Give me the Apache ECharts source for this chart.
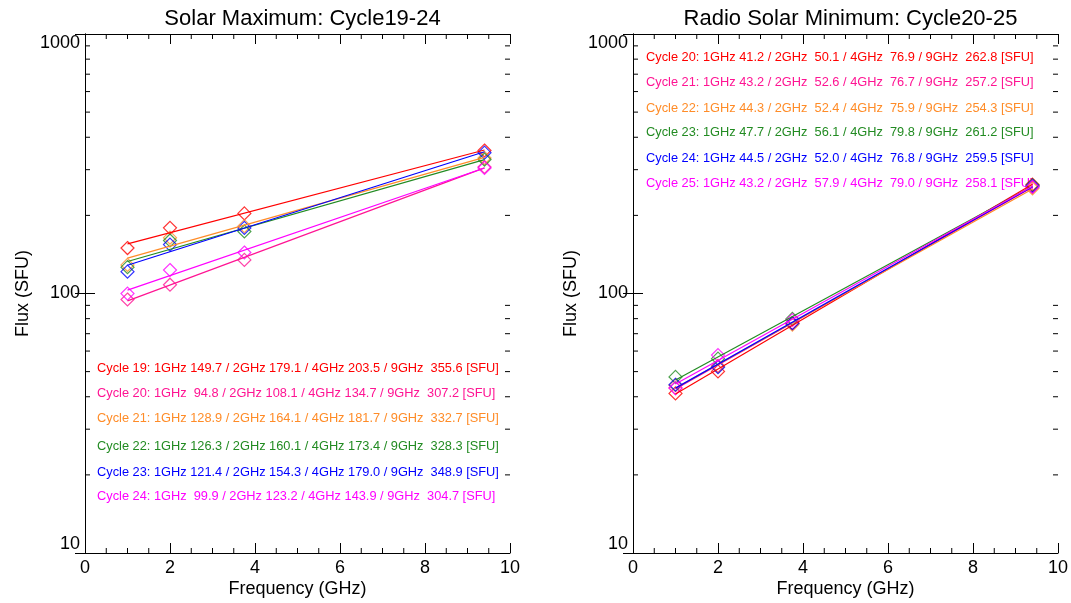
<!DOCTYPE html>
<html>
<head>
<meta charset="utf-8">
<script src="https://cdn.jsdelivr.net/npm/echarts@6/dist/echarts.min.js"></script>
<style>
html,body{margin:0;padding:0;background:#fff;}
#chart{width:1071px;height:603px;}
</style>
</head>
<body>
<div id="chart"></div>
<script>
// ---------- data ----------
const freqs = [1.0, 2.0, 3.75, 9.4];
const freqNames = ['1GHz', '2GHz', '4GHz', '9GHz'];
const xTicks = [0, 2, 4, 6, 8, 10];
const xMinorTicks = [0.5, 1, 1.5, 2.5, 3, 3.5, 4.5, 5, 5.5, 6.5, 7, 7.5, 8.5, 9, 9.5];
const yTicks = [10, 100, 1000];
const yMinorTicks = [20, 30, 40, 50, 60, 70, 80, 90, 200, 300, 400, 500, 600, 700, 800, 900];

const maxTitle = 'Solar Maximum: Cycle19-24';
const maxCycles = ['Cycle 19', 'Cycle 20', 'Cycle 21', 'Cycle 22', 'Cycle 23', 'Cycle 24'];
const maxC19 = [149.7, 179.1, 203.5, 355.6];
const maxC20 = [94.8, 108.1, 134.7, 307.2];
const maxC21 = [128.9, 164.1, 181.7, 332.7];
const maxC22 = [126.3, 160.1, 173.4, 328.3];
const maxC23 = [121.4, 154.3, 179.0, 348.9];
const maxC24 = [99.9, 123.2, 143.9, 304.7];

const minTitle = 'Radio Solar Minimum: Cycle20-25';
const minCycles = ['Cycle 20', 'Cycle 21', 'Cycle 22', 'Cycle 23', 'Cycle 24', 'Cycle 25'];
const minC20 = [41.2, 50.1, 76.9, 262.8];
const minC21 = [43.2, 52.6, 76.7, 257.2];
const minC22 = [44.3, 52.4, 75.9, 254.3];
const minC23 = [47.7, 56.1, 79.8, 261.2];
const minC24 = [44.5, 52.0, 76.8, 259.5];
const minC25 = [43.2, 57.9, 79.0, 258.1];

const colors = ['#ff0000', '#ff1493', '#ff8c28', '#228b22', '#0000ff', '#ff00ff'];

// ---------- layout / style ----------
const FONT = '"Liberation Sans", Arial, Helvetica, sans-serif';
const panels = [
  { left: 85, title: maxTitle, cycles: maxCycles, values: [maxC19, maxC20, maxC21, maxC22, maxC23, maxC24],
    widths: [6, 6, 6, 7], textX: 97, textY: [368, 393, 418, 446, 472, 496] },
  { left: 633, title: minTitle, cycles: minCycles, values: [minC20, minC21, minC22, minC23, minC24, minC25],
    widths: [5, 6, 6, 7], textX: 646, textY: [57, 82, 108, 132, 158, 183] }
];
const GRID_TOP = 34, GRID_H = 519, GRID_W = 425;

function pad(v, w) { let s = v.toFixed(1); while (s.length < w) s = ' ' + s; return s; }
function logFit(xs, ys) {
  const n = xs.length;
  const ly = ys.map(v => Math.log10(v));
  const mx = xs.reduce((a, b) => a + b, 0) / n;
  const my = ly.reduce((a, b) => a + b, 0) / n;
  let sxy = 0, sxx = 0;
  for (let i = 0; i < n; i++) { sxy += (xs[i] - mx) * (ly[i] - my); sxx += (xs[i] - mx) * (xs[i] - mx); }
  const b = sxy / sxx, a = my - b * mx;
  return x => Math.pow(10, a + b * x);
}

const grid = [], xAxis = [], yAxis = [], series = [], graphic = [], title = [];
const XMIN = xTicks[0], XMAX = xTicks[xTicks.length - 1];
const YMIN = yTicks[0], YMAX = yTicks[yTicks.length - 1];

panels.forEach((p, pi) => {
  grid.push({ left: p.left, top: GRID_TOP, width: GRID_W, height: GRID_H, containLabel: false, outerBoundsMode: 'none' });
  title.push({
    text: p.title, left: p.left + GRID_W / 2, top: 3, textAlign: 'center',
    textStyle: { fontFamily: FONT, fontSize: 22, fontWeight: 'normal', color: '#000' }
  });
  const axisLine = { show: true, lineStyle: { color: '#000', width: 1 } };
  const tick = { show: true, inside: true, length: 10, lineStyle: { color: '#000', width: 1 } };
  xAxis.push({
    gridIndex: pi, type: 'value', position: 'bottom', min: XMIN, max: XMAX, interval: 2,
    name: 'Frequency (GHz)', nameLocation: 'middle', nameGap: 27, nameMoveOverlap: false,
    nameTextStyle: { fontFamily: FONT, fontSize: 18, color: '#000', verticalAlign: 'top' },
    axisLine, axisTick: tick, minorTick: { show: false },
    axisLabel: { show: true, margin: 6, fontFamily: FONT, fontSize: 18, color: '#000' },
    splitLine: { show: false }
  });
  xAxis.push({
    gridIndex: pi, type: 'value', position: 'top', min: XMIN, max: XMAX, interval: 2,
    axisLine, axisTick: tick, minorTick: { show: false },
    axisLabel: { show: false }, splitLine: { show: false }
  });
  yAxis.push({
    gridIndex: pi, type: 'log', logBase: 10, min: YMIN, max: YMAX, position: 'left',
    name: 'Flux (SFU)', nameLocation: 'middle', nameGap: 53, nameRotate: 90, nameMoveOverlap: false,
    nameTextStyle: { fontFamily: FONT, fontSize: 18, color: '#000' },
    axisLine, axisTick: tick,
    axisLabel: { show: true, margin: 5, fontFamily: FONT, fontSize: 18, color: '#000',
      verticalAlignMinLabel: 'bottom', verticalAlignMaxLabel: 'top',
      formatter: v => String(Math.round(v)) },
    splitLine: { show: false }, minorTick: { show: false }
  });
  yAxis.push({
    gridIndex: pi, type: 'log', logBase: 10, min: YMIN, max: YMAX, position: 'right',
    axisLine, axisTick: tick,
    axisLabel: { show: false }, splitLine: { show: false }, minorTick: { show: false }
  });

  const xi = pi * 2, yi = pi * 2;
  const tickStyle = { stroke: '#000', lineWidth: 1 };
  // y minor ticks (log), both sides
  series.push({
    type: 'custom', xAxisIndex: xi, yAxisIndex: yi, silent: true, clip: false,
    data: yMinorTicks.map(v => [XMIN, v]),
    renderItem: (params, api) => {
      const v = api.value(1);
      const pL = api.coord([XMIN, v]);
      const pR = api.coord([XMAX, v]);
      return { type: 'group', children: [
        { type: 'line', shape: { x1: pL[0], y1: pL[1], x2: pL[0] + 5, y2: pL[1] }, style: tickStyle },
        { type: 'line', shape: { x1: pR[0], y1: pR[1], x2: pR[0] - 5, y2: pR[1] }, style: tickStyle }
      ] };
    }
  });
  // x minor ticks, top and bottom
  series.push({
    type: 'custom', xAxisIndex: xi, yAxisIndex: yi, silent: true, clip: false,
    data: xMinorTicks.map(v => [v, YMIN]),
    renderItem: (params, api) => {
      const v = api.value(0);
      const pB = api.coord([v, YMIN]);
      const pT = api.coord([v, YMAX]);
      return { type: 'group', children: [
        { type: 'line', shape: { x1: pB[0], y1: pB[1], x2: pB[0], y2: pB[1] - 5 }, style: tickStyle },
        { type: 'line', shape: { x1: pT[0], y1: pT[1], x2: pT[0], y2: pT[1] + 5 }, style: tickStyle }
      ] };
    }
  });

  p.values.forEach((vals, ci) => {
    const c = colors[ci];
    const f = logFit(freqs, vals);
    const x0 = freqs[0], x1 = freqs[freqs.length - 1];
    series.push({
      type: 'line', name: p.cycles[ci] + ' fit', xAxisIndex: xi, yAxisIndex: yi,
      data: [[x0, f(x0)], [x1, f(x1)]], showSymbol: false, symbol: 'none',
      lineStyle: { color: c, width: 1.2 }, silent: true
    });
    series.push({
      type: 'scatter', name: p.cycles[ci], xAxisIndex: xi, yAxisIndex: yi,
      data: freqs.map((x, k) => [x, vals[k]]), symbol: 'diamond', symbolSize: 13,
      itemStyle: { color: 'rgba(0,0,0,0)', borderColor: c, borderWidth: 1.2 }
    });
    const txt = p.cycles[ci] + ': ' + freqNames.map((fn, k) => fn + pad(vals[k], p.widths[k])).join(' / ') + ' [SFU]';
    graphic.push({
      type: 'text', x: p.textX, y: p.textY[ci], silent: true,
      style: { text: txt, fill: c, font: '12.8px ' + FONT, verticalAlign: 'middle', align: 'left' }
    });
  });
});

const chart = echarts.init(document.getElementById('chart'), null, { renderer: 'canvas' });
chart.setOption({
  animation: false,
  backgroundColor: '#fff',
  title, grid, xAxis, yAxis, series, graphic
});
</script>
</body>
</html>
